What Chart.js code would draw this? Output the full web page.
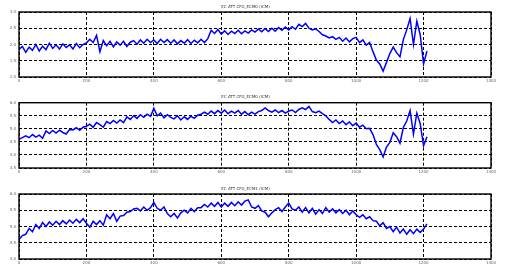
<!DOCTYPE html>
<html>
<head>
<meta charset="utf-8">
<script src="https://cdn.jsdelivr.net/npm/chart.js@4/dist/chart.umd.min.js"></script>
<style>
    body { margin: 0; background: #fff; }
    canvas { position: absolute; left: 0; }
</style>
</head>
<body>
<canvas id="chart_top" width="507" height="90" style="top:0px"></canvas>
<canvas id="chart_mid" width="507" height="90" style="top:90px"></canvas>
<canvas id="chart_bot" width="507" height="95" style="top:180px"></canvas>
<script>
// sample positions, one every 10
let sample_x = [
    0, 10, 20, 30, 40, 50, 60, 70, 80, 90,
    100, 110, 120, 130, 140, 150, 160, 170, 180, 190,
    200, 210, 220, 230, 240, 250, 260, 270, 280, 290,
    300, 310, 320, 330, 340, 350, 360, 370, 380, 390,
    400, 410, 420, 430, 440, 450, 460, 470, 480, 490,
    500, 510, 520, 530, 540, 550, 560, 570, 580, 590,
    600, 610, 620, 630, 640, 650, 660, 670, 680, 690,
    700, 710, 720, 730, 740, 750, 760, 770, 780, 790,
    800, 810, 820, 830, 840, 850, 860, 870, 880, 890,
    900, 910, 920, 930, 940, 950, 960, 970, 980, 990,
    1000, 1010, 1020, 1030, 1040, 1050, 1060, 1070, 1080, 1090,
    1100, 1110, 1120, 1130, 1140, 1150, 1160, 1170, 1180, 1190,
    1200, 1210
];

let top_values = [
    1.85, 1.94, 1.76, 1.92, 1.82, 2.00, 1.80, 1.95, 1.84, 2.04,
    1.88, 1.99, 1.86, 2.02, 1.91, 1.99, 1.86, 2.03, 1.90, 2.00,
    2.05, 2.16, 2.06, 2.28, 1.78, 2.12, 1.96, 2.10, 1.93, 2.08,
    1.98, 2.10, 1.94, 2.07, 2.12, 2.01, 2.14, 2.04, 2.16, 2.06,
    2.14, 2.03, 2.16, 2.06, 2.15, 2.04, 2.14, 2.02, 2.12, 2.04,
    2.15, 2.03, 2.13, 2.05, 2.16, 2.06, 2.18, 2.44, 2.34, 2.46,
    2.32, 2.42, 2.31, 2.41, 2.34, 2.44, 2.33, 2.42, 2.35, 2.45,
    2.38, 2.48, 2.39, 2.49, 2.40, 2.50, 2.41, 2.52, 2.44, 2.54,
    2.45, 2.55, 2.47, 2.62, 2.55, 2.65, 2.50, 2.45, 2.48, 2.40,
    2.30, 2.26, 2.20, 2.24, 2.16, 2.22, 2.10, 2.20, 2.08, 2.18,
    2.22, 2.06, 2.14, 1.98, 2.06, 1.78, 1.52, 1.40, 1.18, 1.45,
    1.72, 1.92, 1.75, 1.62, 2.15, 2.45, 2.80, 2.00, 2.72, 2.30,
    1.40, 1.80
];

let mid_values = [
    4.60, 4.66, 4.73, 4.66, 4.78, 4.68, 4.76, 4.64, 4.92, 4.82,
    4.94, 4.84, 4.95, 4.86, 4.80, 4.97, 4.96, 5.04, 4.94, 5.06,
    5.10, 5.18, 5.06, 5.24, 5.16, 5.06, 5.28, 5.20, 5.32, 5.22,
    5.34, 5.24, 5.46, 5.36, 5.50, 5.40, 5.54, 5.44, 5.56, 5.48,
    5.78, 5.50, 5.60, 5.42, 5.54, 5.44, 5.38, 5.50, 5.34, 5.46,
    5.36, 5.48, 5.40, 5.52, 5.56, 5.64, 5.56, 5.68, 5.58, 5.70,
    5.60, 5.72, 5.58, 5.68, 5.60, 5.70, 5.56, 5.66, 5.54, 5.64,
    5.56, 5.66, 5.70, 5.80, 5.70, 5.64, 5.72, 5.62, 5.70, 5.60,
    5.68, 5.72, 5.62, 5.74, 5.80, 5.74, 5.86, 5.66, 5.62, 5.68,
    5.58, 5.50, 5.36, 5.24, 5.34, 5.20, 5.30, 5.16, 5.26, 5.12,
    5.22, 5.06, 5.14, 5.00, 5.02, 4.78, 4.40, 4.20, 3.92, 4.30,
    4.48, 4.85, 4.70, 4.45, 5.05, 5.30, 5.70, 4.80, 5.60, 5.20,
    4.35, 4.70
];

let bot_values = [
    4.60, 4.72, 4.76, 4.94, 4.84, 5.06, 4.94, 5.12, 5.00, 5.14,
    5.04, 5.16, 5.06, 5.18, 5.08, 5.20, 5.10, 5.22, 5.12, 5.24,
    5.10, 4.98, 5.16, 5.06, 5.18, 5.04, 5.36, 5.24, 5.40, 5.16,
    5.32, 5.34, 5.44, 5.46, 5.54, 5.56, 5.48, 5.60, 5.50, 5.58,
    5.74, 5.56, 5.50, 5.60, 5.40, 5.30, 5.40, 5.26, 5.42, 5.50,
    5.42, 5.56, 5.46, 5.58, 5.58, 5.68, 5.60, 5.72, 5.62, 5.74,
    5.60, 5.72, 5.62, 5.74, 5.64, 5.76, 5.66, 5.78, 5.82, 5.60,
    5.56, 5.64, 5.48, 5.44, 5.30, 5.42, 5.52, 5.58, 5.46, 5.60,
    5.72, 5.54, 5.50, 5.60, 5.44, 5.58, 5.42, 5.56, 5.38, 5.52,
    5.40, 5.58, 5.44, 5.54, 5.42, 5.52, 5.40, 5.50, 5.36, 5.48,
    5.36, 5.28, 5.36, 5.24, 5.30, 5.18, 5.16, 5.02, 5.12, 4.94,
    5.00, 4.84, 4.98, 4.80, 4.92, 4.76, 4.90, 4.78, 4.92, 4.82,
    4.92, 5.08
];

let chart_titles = ['EC ATT CFG_ECM0 (ICM)', 'EC ATT CFG_ECM0 (ICM)', 'EC ATT CFG_ECM1 (ICM)'];
let x_ticks = [0, 200, 400, 600, 800, 1000, 1200, 1400];
let x_tick_labels = ['0', '200', '400', '600', '800', '1000', '1200', '1400'];
let top_y_range = [1.0, 3.0, 0.5];
let mid_y_range = [3.5, 6.0, 0.5];
let bot_y_range = [4.0, 6.0, 0.5];

// solid frame round the plot area
const frame_plugin = {
    id: 'frame',
    afterDraw(chart) {
        let area = chart.chartArea;
        let ctx = chart.ctx;
        ctx.save();
        ctx.strokeStyle = '#000';
        ctx.lineWidth = 1.4;
        ctx.strokeRect(area.left, area.top, area.right - area.left, area.bottom - area.top);
        ctx.restore();
    }
};

function make_points(values) {
    return values.map((v, i) => ({x: sample_x[i], y: v}));
}

function make_chart(canvas_id, title, values, y_range, title_pad, x_axis_height) {
    let canvas = document.getElementById(canvas_id);
    return new Chart(canvas, {
        type: 'line',
        data: {
            datasets: [{
                data: make_points(values),
                borderColor: '#0000ff',
                borderWidth: 1.5,
                pointRadius: 0,
                tension: 0,
                fill: false,
            }]
        },
        options: {
            responsive: false,
            animation: false,
            layout: {padding: {left: 0, right: 16, top: 0, bottom: 0}},
            plugins: {
                legend: {display: false},
                tooltip: {enabled: false},
                title: {
                    display: true,
                    text: title,
                    color: '#333',
                    font: {size: 4, family: 'DejaVu Sans', weight: 'normal'},
                    padding: title_pad,
                }
            },
            scales: {
                x: {
                    type: 'linear',
                    min: x_ticks[0],
                    max: x_ticks[x_ticks.length - 1],
                    afterBuildTicks: (scale) => {
                        scale.ticks = x_ticks.map(v => ({value: v}));
                    },
                    afterTickToLabelConversion: (scale) => {
                        scale.ticks.forEach((t, i) => { t.label = x_tick_labels[i]; });
                    },
                    afterFit: (scale) => { scale.height = x_axis_height; },
                    grid: {color: '#000', lineWidth: 1, drawTicks: false},
                    border: {display: false, dash: [3, 2]},
                    ticks: {
                        color: '#666',
                        font: {size: 4, family: 'DejaVu Sans'},
                        padding: 2,
                        maxRotation: 0,
                    }
                },
                y: {
                    min: y_range[0],
                    max: y_range[1],
                    afterFit: (scale) => { scale.width = 19; },
                    grid: {color: '#000', lineWidth: 1, drawTicks: false},
                    border: {display: false, dash: [3, 2]},
                    ticks: {
                        stepSize: y_range[2],
                        color: '#666',
                        font: {size: 4, family: 'DejaVu Sans'},
                        padding: 3,
                        callback: (v) => v.toFixed(1),
                    }
                }
            }
        },
        plugins: [frame_plugin]
    });
}

make_chart('chart_top', chart_titles[0], top_values, top_y_range, {top: 4.3, bottom: 2.9}, 13);
make_chart('chart_mid', chart_titles[1], mid_values, mid_y_range, {top: 4.9, bottom: 3.0}, 12);
make_chart('chart_bot', chart_titles[2], bot_values, bot_y_range, {top: 6.9, bottom: 2.3}, 16);
</script>
</body>
</html>
